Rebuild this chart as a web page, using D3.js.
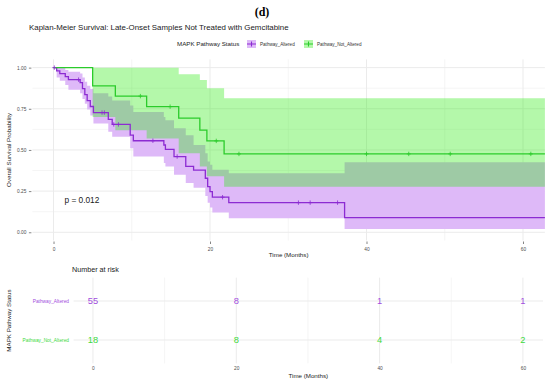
<!DOCTYPE html>
<html>
<head>
<meta charset="utf-8">
<script src="https://cdn.jsdelivr.net/npm/d3@7"></script>
<style>
body { margin: 0; background: #fff; }
text { font-family: "Liberation Sans", Arial, sans-serif; }
</style>
</head>
<body>
<div id="chart"></div>
<script>
////////////////////////////////////////
// data
////////////////////////////////////////

var groups = ["Pathway_Altered", "Pathway_Not_Altered"];

// Pathway_Altered (n = 55)
var altTime  = [0, 0.4, 0.8, 1.5, 1.9, 3.4, 3.7, 4.0, 4.3, 4.7, 5.1, 7.0, 7.5, 9.8, 10.2, 14.1, 14.3, 15.4, 16.9, 17.9, 19.4, 19.7, 20.0, 20.3, 22.4, 37.2];
var altSurv  = [1, 0.98, 0.964, 0.945, 0.927, 0.909, 0.873, 0.836, 0.80, 0.764, 0.727, 0.686, 0.655, 0.59, 0.556, 0.53, 0.504, 0.46, 0.40, 0.378, 0.328, 0.277, 0.247, 0.213, 0.18, 0.089];
var altUpper = [1, 1, 1, 0.985, 0.975, 0.965, 0.94, 0.915, 0.89, 0.87, 0.845, 0.824, 0.80, 0.77, 0.73, 0.70, 0.68, 0.632, 0.59, 0.53, 0.48, 0.43, 0.41, 0.38, 0.358, 0.425];
var altLower = [1, 0.94, 0.92, 0.895, 0.865, 0.845, 0.81, 0.78, 0.745, 0.71, 0.66, 0.61, 0.58, 0.51, 0.46, 0.42, 0.40, 0.35, 0.30, 0.27, 0.22, 0.18, 0.15, 0.12, 0.085, 0.02];
var altCensor = [0.1, 3.2, 6.2, 6.5, 7.7, 8.3, 12.7, 15.8, 21.6, 31.3, 32.8, 36.3];

// Pathway_Not_Altered (n = 18)
var notTime  = [0, 5.0, 7.9, 11.9, 16.0, 18.7, 19.6, 21.8];
var notSurv  = [1, 0.889, 0.827, 0.763, 0.693, 0.62, 0.555, 0.476];
var notUpper = [1, 1, 1, 1, 0.96, 0.925, 0.875, 0.814];
var notLower = [1, 0.70, 0.62, 0.57, 0.48, 0.40, 0.34, 0.277];
var notCensor = [11.1, 14.9, 20.8, 23.7, 40, 45.4, 50.7, 61];

var maxTime = 62.8;

// number at risk table
var riskTimes = [0, 20, 40, 60];
var riskAltered = [55, 8, 1, 1];
var riskNotAltered = [18, 8, 4, 2];

var xTicks = [0, 20, 40, 60];
var xMinor = [10, 30, 50];
var yTicks = [0, 0.25, 0.5, 0.75, 1];
var yMinor = [0.125, 0.375, 0.625, 0.875];
var pLabel = "p = 0.012";

////////////////////////////////////////
// styles
////////////////////////////////////////

var lineCol  = { "Pathway_Altered": "#8C2BD2", "Pathway_Not_Altered": "#2BCB2B" };
var textCol  = { "Pathway_Altered": "#A24DDD", "Pathway_Not_Altered": "#3DD93D" };
var gridCol = "#EBEBEB";

var W = 550, H = 383;

var svg = d3.select("#chart").append("svg")
    .attr("width", W)
    .attr("height", H);

////////////////////////////////////////
// headings
////////////////////////////////////////

svg.append("text")
    .attr("x", 262).attr("y", 16)
    .attr("text-anchor", "middle")
    .style("font-family", "'Liberation Serif', 'DejaVu Serif', serif")
    .style("font-weight", "bold")
    .style("font-size", "12px")
    .text("(d)");

svg.append("text")
    .attr("x", 29).attr("y", 30)
    .style("font-size", "7.9px")
    .style("fill", "#1a1a1a")
    .text("Kaplan-Meier Survival: Late-Onset Samples Not Treated with Gemcitabine");

// legend
var lg = svg.append("g").attr("transform", "translate(0,46)");
lg.append("text")
    .attr("x", 177).attr("y", 0)
    .style("font-size", "6.2px")
    .style("fill", "#1a1a1a")
    .text("MAPK Pathway Status");

var keyX = [247, 304];
var keyFill = ["#DEB9F8", "#B4F8AA"];
groups.forEach(function (g, i) {
    var k = lg.append("g").attr("transform", "translate(" + keyX[i] + ",-6)");
    k.append("rect").attr("width", 9).attr("height", 8).style("fill", keyFill[i]);
    k.append("path").attr("d", "M0,4H9M4.5,1.5V6.5")
        .style("stroke", lineCol[g]).style("stroke-width", 1.1);
    lg.append("text")
        .attr("x", keyX[i] + 13).attr("y", -0.5)
        .style("font-size", "4.6px")
        .style("fill", "#333")
        .text(g);
});

////////////////////////////////////////
// survival panel
////////////////////////////////////////

var x = d3.scaleLinear().domain([-2.7, maxTime]).range([32.4, 544.9]);
var y = d3.scaleLinear().domain([-0.05, 1.05]).range([240.5, 59.4]);

var km = svg.append("g");

xMinor.forEach(function (t) {
    km.append("line").attr("x1", x(t)).attr("x2", x(t)).attr("y1", y.range()[0]).attr("y2", y.range()[1])
        .style("stroke", gridCol).style("stroke-width", 0.5);
});
yMinor.forEach(function (v) {
    km.append("line").attr("x1", x.range()[0]).attr("x2", x.range()[1]).attr("y1", y(v)).attr("y2", y(v))
        .style("stroke", gridCol).style("stroke-width", 0.5);
});
xTicks.forEach(function (t) {
    km.append("line").attr("x1", x(t)).attr("x2", x(t)).attr("y1", y.range()[0]).attr("y2", y.range()[1])
        .style("stroke", gridCol).style("stroke-width", 1);
});
yTicks.forEach(function (v) {
    km.append("line").attr("x1", x.range()[0]).attr("x2", x.range()[1]).attr("y1", y(v)).attr("y2", y(v))
        .style("stroke", gridCol).style("stroke-width", 1);
});

function rows(time, surv, upper, lower) {
    var r = time.map(function (t, i) {
        return { t: t, s: surv[i], u: upper[i], l: lower[i] };
    });
    var last = r[r.length - 1];
    r.push({ t: maxTime, s: last.s, u: last.u, l: last.l });
    return r;
}

var altRows = rows(altTime, altSurv, altUpper, altLower);
var notRows = rows(notTime, notSurv, notUpper, notLower);

var band = d3.area().curve(d3.curveStepAfter)
    .x(function (d) { return x(d.t); })
    .y0(function (d) { return y(d.l); })
    .y1(function (d) { return y(d.u); });

var curve = d3.line().curve(d3.curveStepAfter)
    .x(function (d) { return x(d.t); })
    .y(function (d) { return y(d.s); });

km.append("path").attr("d", band(altRows)).style("fill", "#DEB9F8");
km.append("path").attr("d", band(notRows))
    .style("fill", "rgb(40,234,11)").style("fill-opacity", 0.35);

km.append("path").attr("d", curve(altRows))
    .style("fill", "none").style("stroke", lineCol[groups[0]]).style("stroke-width", 1.3);
km.append("path").attr("d", curve(notRows))
    .style("fill", "none").style("stroke", lineCol[groups[1]]).style("stroke-width", 1.3);

// censor marks
function survAt(rs, t) {
    var s = 1;
    rs.forEach(function (d) { if (d.t <= t) s = d.s; });
    return s;
}
function drawCensor(rs, cens, col) {
    cens.forEach(function (t) {
        km.append("path")
            .attr("transform", "translate(" + x(t) + "," + y(survAt(rs, t)) + ")")
            .attr("d", "M-2,0H2M0,-2.2V2.2")
            .style("stroke", col).style("stroke-width", 0.8);
    });
}
drawCensor(altRows, altCensor, lineCol[groups[0]]);
drawCensor(notRows, notCensor, lineCol[groups[1]]);

// axes
var xAxis = d3.axisBottom(x).tickValues(xTicks).tickSize(2.5).tickPadding(3.5);
var gx = km.append("g").attr("transform", "translate(0," + (y.range()[0] + 1) + ")").call(xAxis);
gx.select(".domain").remove();
gx.selectAll("line").style("stroke", "#333").style("stroke-width", 0.6);
gx.selectAll("text").style("font-size", "4.8px").style("fill", "#4D4D4D")
    .style("font-family", "'Liberation Sans', Arial, sans-serif");

var yAxis = d3.axisLeft(y).tickValues(yTicks).tickSize(2.5).tickPadding(2.5)
    .tickFormat(d3.format(".2f"));
var gy = km.append("g").attr("transform", "translate(" + (x.range()[0] - 1) + ",0)").call(yAxis);
gy.select(".domain").remove();
gy.selectAll("line").style("stroke", "#333").style("stroke-width", 0.6);
gy.selectAll("text").style("font-size", "4.8px").style("fill", "#4D4D4D")
    .style("font-family", "'Liberation Sans', Arial, sans-serif");

km.append("text")
    .attr("x", (x.range()[0] + x.range()[1]) / 2).attr("y", 257)
    .attr("text-anchor", "middle")
    .style("font-size", "6.2px").style("fill", "#1a1a1a")
    .text("Time (Months)");

km.append("text")
    .attr("transform", "translate(11," + ((y.range()[0] + y.range()[1]) / 2) + ") rotate(-90)")
    .attr("text-anchor", "middle")
    .style("font-size", "6.2px").style("fill", "#1a1a1a")
    .text("Overall Survival Probability");

km.append("text")
    .attr("x", 64.5).attr("y", 203)
    .style("font-size", "8.3px").style("fill", "#1a1a1a")
    .text(pLabel);

////////////////////////////////////////
// number at risk table
////////////////////////////////////////

var xr = d3.scaleLinear().domain([-2.7, maxTime]).range([73.6, 543]);
var yr = d3.scalePoint().domain(groups).range([301, 340]).padding(0);
var rTop = 277.6, rBot = 363.4;

var risk = svg.append("g");

risk.append("text")
    .attr("x", 72).attr("y", 272)
    .style("font-size", "7.2px").style("fill", "#1a1a1a")
    .text("Number at risk");

xMinor.forEach(function (t) {
    risk.append("line").attr("x1", xr(t)).attr("x2", xr(t)).attr("y1", rTop).attr("y2", rBot)
        .style("stroke", gridCol).style("stroke-width", 0.5);
});
xTicks.forEach(function (t) {
    risk.append("line").attr("x1", xr(t)).attr("x2", xr(t)).attr("y1", rTop).attr("y2", rBot)
        .style("stroke", gridCol).style("stroke-width", 1);
});
groups.forEach(function (g) {
    risk.append("line").attr("x1", xr.range()[0]).attr("x2", xr.range()[1]).attr("y1", yr(g)).attr("y2", yr(g))
        .style("stroke", gridCol).style("stroke-width", 1);
});

var riskVals = [riskAltered, riskNotAltered];
groups.forEach(function (g, i) {
    risk.selectAll(null).data(riskTimes).enter().append("text")
        .attr("x", function (t) { return xr(t); })
        .attr("y", yr(g) + 3.3)
        .attr("text-anchor", "middle")
        .style("font-size", "9.3px")
        .style("fill", textCol[g])
        .text(function (t, j) { return riskVals[i][j]; });

    risk.append("text")
        .attr("x", 69).attr("y", yr(g) + 1.7)
        .attr("text-anchor", "end")
        .style("font-size", "4.8px")
        .style("fill", textCol[g])
        .text(g);
});

var rx = d3.axisBottom(xr).tickValues(xTicks).tickSize(0).tickPadding(3);
var grx = risk.append("g").attr("transform", "translate(0," + rBot + ")").call(rx);
grx.select(".domain").remove();
grx.selectAll("text").style("font-size", "4.8px").style("fill", "#4D4D4D")
    .style("font-family", "'Liberation Sans', Arial, sans-serif");

risk.append("text")
    .attr("x", (xr.range()[0] + xr.range()[1]) / 2).attr("y", 378)
    .attr("text-anchor", "middle")
    .style("font-size", "6.2px").style("fill", "#1a1a1a")
    .text("Time (Months)");

risk.append("text")
    .attr("transform", "translate(11," + ((rTop + rBot) / 2) + ") rotate(-90)")
    .attr("text-anchor", "middle")
    .style("font-size", "6.2px").style("fill", "#1a1a1a")
    .text("MAPK Pathway Status");
</script>
</body>
</html>
